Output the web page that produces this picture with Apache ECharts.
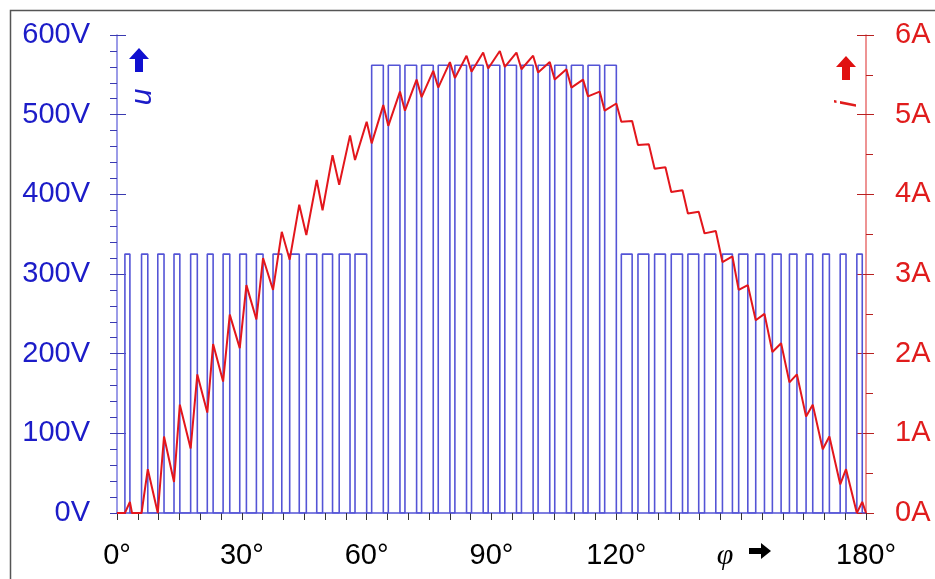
<!DOCTYPE html>
<html>
<head>
<meta charset="utf-8">
<script src="https://cdn.jsdelivr.net/npm/echarts@6/dist/echarts.min.js"></script>
<style>
  html, body { margin: 0; padding: 0; background: #fff; }
  #chart { width: 935px; height: 579px; }
</style>
</head>
<body>
<div id="chart"></div>
<script>
// PWM pulses (degrees) and their voltage levels
const pulseOn = [
  1.9, 5.9, 9.8, 13.7, 17.7, 21.7, 25.5, 29.5, 33.5, 37.5, 41.5, 45.5, 49.4, 53.4, 57.2,
  61.2, 65.2, 69.2, 73.2, 77.2, 81.2, 85.2, 89.2, 93.2, 97.2, 101.2, 105.2, 109.2, 113.2, 117.2,
  121.2, 125.2, 129.2, 133.2, 137.2, 141.2, 145.5, 149.4, 153.5, 157.5, 161.6, 165.6, 169.6, 173.8, 177.8
];
const pulseOff = [
  3.1, 7.4, 11.3, 15.1, 19.3, 23.1, 27.1, 31.1, 35.1, 39.6, 43.8, 48.0, 51.8, 56.0, 60.0,
  64.0, 68.0, 72.0, 76.0, 80.0, 84.0, 88.0, 92.0, 96.0, 100.0, 104.0, 108.0, 112.0, 116.0, 120.0,
  123.8, 127.8, 131.8, 135.9, 139.8, 143.9, 147.9, 151.6, 155.6, 159.6, 163.4, 167.2, 171.2, 175.2, 179.1
];
const pulseLevel = [
  325, 325, 325, 325, 325, 325, 325, 325, 325, 325, 325, 325, 325, 325, 325,
  562, 562, 562, 562, 562, 562, 562, 562, 562, 562, 562, 562, 562, 562, 562,
  325, 325, 325, 325, 325, 325, 325, 325, 325, 325, 325, 325, 325, 325, 325
];

// current waveform vertices
const currentDeg = [
  0, 1.9, 3.1, 3.6, 5.9, 7.4, 9.8, 11.3, 13.7, 15.1, 17.7, 19.3, 21.7, 23.1, 25.5, 27.1,
  29.5, 31.1, 33.5, 35.1, 37.5, 39.6, 41.5, 43.8, 45.5, 48.0, 49.4, 51.8, 53.4, 56.0, 57.2, 60.0,
  61.2, 64.0, 65.2, 68.0, 69.2, 72.0, 73.2, 76.0, 77.2, 80.0, 81.2, 84.0, 85.2, 88.0,
  89.2, 92.0, 93.2, 96.0, 97.2, 100.0, 101.2, 104.0, 105.2, 108.0, 109.2, 112.0, 113.2, 116.0,
  117.2, 120.0, 121.2, 123.8, 125.2, 127.8, 129.2, 131.8, 133.2, 135.9, 137.2, 139.8,
  141.2, 143.9, 145.5, 147.9, 149.4, 151.6, 153.5, 155.6, 157.5, 159.6, 161.6, 163.4,
  165.6, 167.2, 169.6, 171.2, 173.8, 175.2, 177.8, 179.1, 180
];
const currentAmp = [
  0, 0, 0.14, 0, 0, 0.55, 0, 0.96, 0.39, 1.36, 0.81, 1.74, 1.26, 2.12, 1.65, 2.49,
  2.07, 2.86, 2.43, 3.20, 2.80, 3.53, 3.18, 3.87, 3.49, 4.18, 3.80, 4.49, 4.12, 4.74, 4.43, 4.91,
  4.64, 5.12, 4.86, 5.29, 5.05, 5.44, 5.22, 5.55, 5.34, 5.66, 5.46, 5.74, 5.54, 5.78,
  5.58, 5.80, 5.60, 5.78, 5.57, 5.74, 5.53, 5.66, 5.44, 5.57, 5.34, 5.44, 5.23, 5.29,
  5.05, 5.14, 4.91, 4.92, 4.62, 4.63, 4.32, 4.34, 4.03, 4.05, 3.76, 3.78,
  3.51, 3.54, 3.15, 3.22, 2.80, 2.86, 2.42, 2.50, 2.02, 2.13, 1.64, 1.74,
  1.21, 1.36, 0.80, 0.96, 0.36, 0.55, 0, 0.14, 0
];

// axis ticks / labels
const xLabelEvery = 30;
const xArrowAt = 150;

const blue = "#5454d6";
const blueText = "#1c1cc8";
const red = "#e3161c";
const redText = "#e01c1c";
const font = "Liberation Sans";

const voltageData = [[0, 0]];
pulseOn.forEach((on, i) => {
  voltageData.push([on, 0], [on, pulseLevel[i]], [pulseOff[i], pulseLevel[i]], [pulseOff[i], 0]);
});
voltageData.push([180, 0]);

const currentData = currentDeg.map((d, i) => [d, currentAmp[i]]);

// heavy arrow shapes for the axis names
const upArrow = (cx, cy) => [
  [cx, cy - 12], [cx + 10, cy - 1], [cx + 4, cy - 1], [cx + 4, cy + 12],
  [cx - 4, cy + 12], [cx - 4, cy - 1], [cx - 10, cy - 1]
];
const rightArrow = (cx, cy) => [
  [cx + 11, cy], [cx + 1, cy - 8], [cx + 1, cy - 3], [cx - 11, cy - 3],
  [cx - 11, cy + 3], [cx + 1, cy + 3], [cx + 1, cy + 8]
];

const chart = echarts.init(document.getElementById("chart"));

const option = {
  animation: false,
  backgroundColor: "#fff",
  grid: { left: 117, right: 69, top: 35, bottom: 66 },
  xAxis: {
    type: "value",
    min: 0,
    max: 180,
    interval: 5,
    axisLine: { show: true, lineStyle: { color: blue, width: 1.5 } },
    axisTick: { show: true, length: 7, lineStyle: { color: "#333", width: 1 } },
    splitLine: { show: false },
    axisLabel: {
      margin: 28,
      color: "#000",
      fontSize: 29,
      fontFamily: font,
      formatter: (v) => {
        if (v === xArrowAt) return "{phi|φ}{sp|}";
        return v % xLabelEvery === 0 ? v + "°" : "";
      },
      rich: {
        phi: { fontFamily: "Liberation Serif", fontStyle: "italic", fontSize: 30, color: "#000" },
        sp: { width: 32 }
      }
    }
  },
  yAxis: [
    {
      type: "value",
      position: "left",
      min: 0,
      max: 600,
      interval: 100,
      axisLine: { show: true, lineStyle: { color: "#7a7ae0", width: 1.5 } },
      axisTick: { show: true, length: 7, lineStyle: { color: "#3a3ab0" } },
      minorTick: { show: true, splitNumber: 5, length: 7, lineStyle: { color: "#3a3ab0" } },
      splitLine: { show: false },
      axisLabel: {
        margin: 27,
        color: blueText,
        fontSize: 29,
        fontFamily: font,
        formatter: "{value}V"
      }
    },
    {
      type: "value",
      position: "right",
      min: 0,
      max: 6,
      interval: 1,
      axisLine: { show: true, lineStyle: { color: "#e87070", width: 1.5 } },
      axisTick: { show: true, length: 8, lineStyle: { color: "#b82020" } },
      minorTick: { show: true, splitNumber: 2, length: 7, lineStyle: { color: "#b82020" } },
      splitLine: { show: false },
      axisLabel: {
        margin: 29,
        color: redText,
        fontSize: 29,
        fontFamily: font,
        formatter: "{value}A"
      }
    },
    // inner halves of the major ticks
    {
      type: "value",
      position: "left",
      min: 0,
      max: 600,
      interval: 100,
      axisLine: { show: false },
      axisTick: { show: true, inside: true, length: 9, lineStyle: { color: "#3a3ab0" } },
      axisLabel: { show: false },
      splitLine: { show: false }
    },
    {
      type: "value",
      position: "right",
      min: 0,
      max: 6,
      interval: 1,
      axisLine: { show: false },
      axisTick: { show: true, inside: true, length: 9, lineStyle: { color: "#b82020" } },
      axisLabel: { show: false },
      splitLine: { show: false }
    }
  ],
  series: [
    {
      name: "u",
      type: "line",
      yAxisIndex: 0,
      showSymbol: false,
      data: voltageData,
      lineStyle: { color: blue, width: 1.6 },
      z: 2
    },
    {
      name: "i",
      type: "line",
      yAxisIndex: 1,
      showSymbol: false,
      data: currentData,
      lineStyle: { color: red, width: 2 },
      z: 3
    }
  ],
  graphic: [
    {
      type: "rect",
      shape: { x: 10.5, y: 10.5, width: 940, height: 600 },
      style: { fill: "none", stroke: "#555", lineWidth: 1.5 },
      silent: true
    },
    {
      type: "polygon",
      shape: { points: upArrow(139, 60) },
      style: { fill: "#1010d0" }
    },
    {
      type: "text",
      x: 143, y: 97, rotation: Math.PI / 2,
      style: { text: "u", font: "italic 30px 'Liberation Sans'", fill: blueText, align: "center", verticalAlign: "middle" }
    },
    {
      type: "polygon",
      shape: { points: upArrow(846, 68) },
      style: { fill: "#e01010" }
    },
    {
      type: "text",
      x: 848, y: 104, rotation: Math.PI / 2,
      style: { text: "i", font: "italic 30px 'Liberation Sans'", fill: redText, align: "center", verticalAlign: "middle" }
    },
    {
      type: "polygon",
      shape: { points: rightArrow(760, 551) },
      style: { fill: "#000" }
    }
  ]
};

chart.setOption(option);
window.addEventListener("resize", () => chart.resize());
</script>
</body>
</html>
